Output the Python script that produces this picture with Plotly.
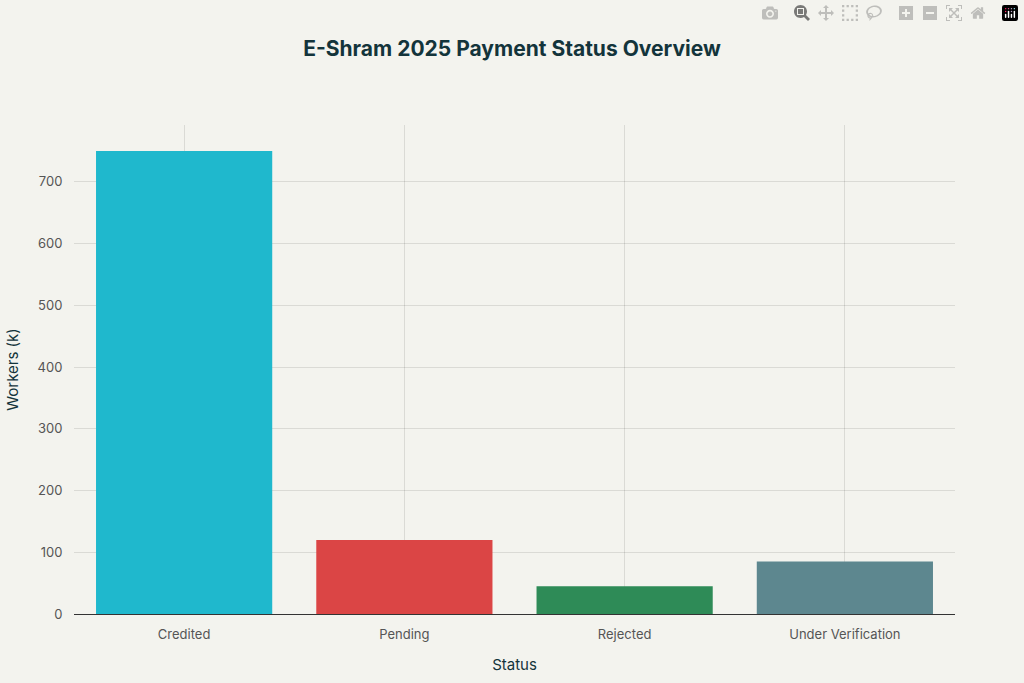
import plotly.graph_objects as go

categories = ["Credited", "Pending", "Rejected", "Under Verification"]
workers_k = [750, 120, 45, 85]
colors = ["#1FB8CD", "#DB4545", "#2E8B57", "#5D878F"]

fig = go.Figure(go.Bar(x=categories, y=workers_k, marker_color=colors,
                       marker_line_width=0, width=0.8))
fig.update_layout(
    width=1024, height=683,
    paper_bgcolor="#F3F3EE", plot_bgcolor="#F3F3EE",
    font=dict(family="Inter, Noto Sans, sans-serif", color="#13343B", size=12),
    title=dict(text="<b>E-Shram 2025 Payment Status Overview</b>", x=0.5, y=0.94,
               xanchor="center", font=dict(size=21, color="#13343B")),
    margin=dict(l=69, r=69, t=125, b=69),
    showlegend=False,
)
fig.update_xaxes(title_text="Status", showgrid=True, gridcolor="rgba(0,0,0,0.1)",
                 showline=True, linecolor="#333", tickfont=dict(color="#555", size=13),
                 ticks="outside", ticklen=8, tickcolor="rgba(0,0,0,0)",
                 title_font=dict(size=15), title_standoff=18)
fig.update_yaxes(title_text="Workers (k)", range=[0, 792], dtick=100, showgrid=True,
                 gridcolor="rgba(0,0,0,0.1)", zeroline=False,
                 ticks="outside", ticklen=8, tickcolor="rgba(0,0,0,0)",
                 tickfont=dict(color="#555", size=13), title_font=dict(size=15))
fig.write_html("out.html", post_script="document.body.style.margin='0';")
